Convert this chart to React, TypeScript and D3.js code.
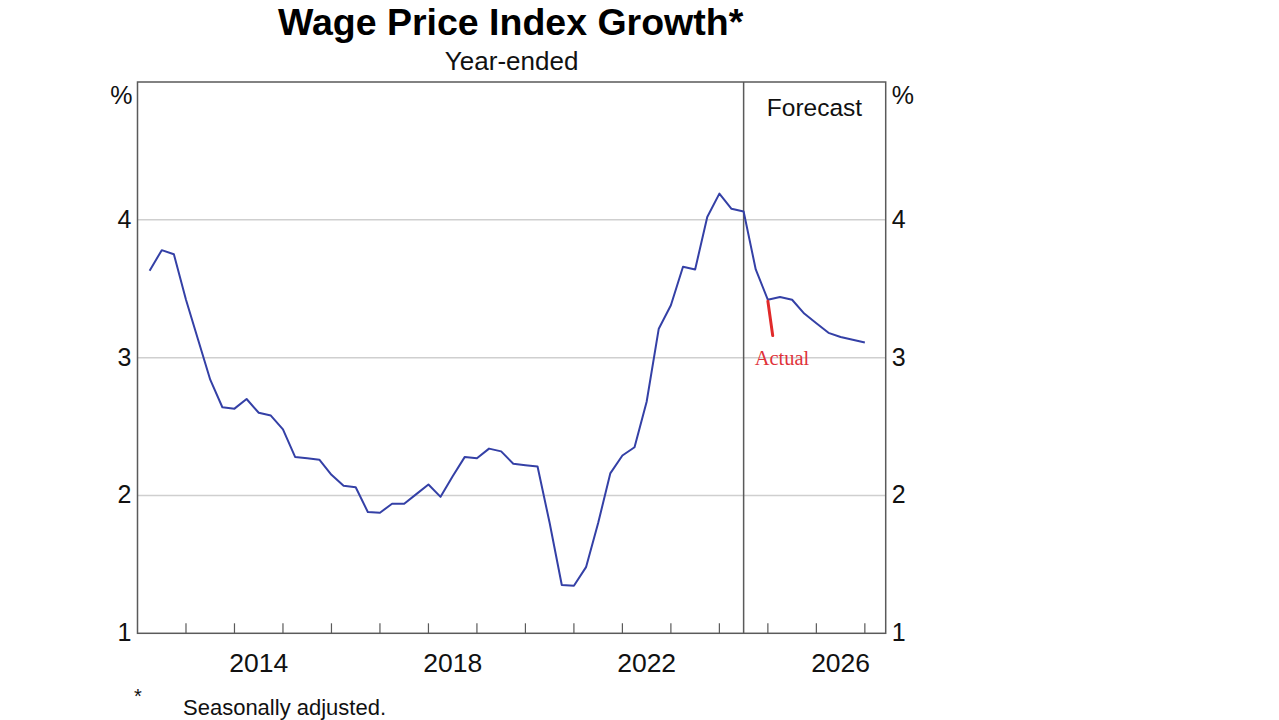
import React from "react";
import * as d3 from "d3";

// Quarterly observations (x = decimal year of quarter end)
const actualYears: number[] = [
  2012.25, 2012.5, 2012.75, 2013.0, 2013.25, 2013.5, 2013.75, 2014.0, 2014.25, 2014.5,
  2014.75, 2015.0, 2015.25, 2015.5, 2015.75, 2016.0, 2016.25, 2016.5, 2016.75, 2017.0,
  2017.25, 2017.5, 2017.75, 2018.0, 2018.25, 2018.5, 2018.75, 2019.0, 2019.25, 2019.5,
  2019.75, 2020.0, 2020.25, 2020.5, 2020.75, 2021.0, 2021.25, 2021.5, 2021.75, 2022.0,
  2022.25, 2022.5, 2022.75, 2023.0, 2023.25, 2023.5, 2023.75, 2024.0, 2024.25, 2024.5,
];
const actualValues: number[] = [
  3.63, 3.78, 3.75, 3.42, 3.13, 2.84, 2.64, 2.63, 2.70, 2.60,
  2.58, 2.48, 2.28, 2.27, 2.26, 2.15, 2.07, 2.06, 1.88, 1.875,
  1.94, 1.94, 2.01, 2.08, 1.99, 2.14, 2.28, 2.27, 2.34, 2.32,
  2.23, 2.22, 2.21, 1.80, 1.35, 1.345, 1.48, 1.80, 2.16, 2.29,
  2.35, 2.68, 3.21, 3.38, 3.66, 3.64, 4.02, 4.19, 4.08, 4.06,
];
const forecastYears: number[] = [2024.75, 2025.0, 2025.25, 2025.5, 2025.75, 2026.0, 2026.25, 2026.5, 2026.75, 2027.0];
const forecastValues: number[] = [3.64, 3.42, 3.44, 3.42, 3.32, 3.25, 3.18, 3.15, 3.13, 3.11];

// Red "Actual" annotation stroke
const actualMarkYears: number[] = [2025.0, 2025.1];
const actualMarkValues: number[] = [3.41, 3.16];

const yTicks: number[] = [1, 2, 3, 4];
const gridValues: number[] = [2, 3, 4];
const xTickYears: number[] = d3.range(2013, 2028);
const xLabelYears: number[] = [2014, 2018, 2022, 2026];
const forecastStart = 2024.5;
const xDomain: [number, number] = [2012, 2027.43];
const yDomain: [number, number] = [1, 5];

const FONT = "'Liberation Sans', Arial, sans-serif";

export default function App() {
  const left = 137.5, right = 885.7, top = 82, bottom = 633.3;
  const x = d3.scaleLinear().domain(xDomain).range([left, right]);
  const y = d3.scaleLinear().domain(yDomain).range([bottom, top]);
  const cx = (left + right) / 2;

  const series = actualYears.map((yr, i) => ({ yr, v: actualValues[i] }))
    .concat(forecastYears.map((yr, i) => ({ yr, v: forecastValues[i] })));
  const line = d3.line<{ yr: number; v: number }>().x(d => x(d.yr)).y(d => y(d.v));
  const mark = actualMarkYears.map((yr, i) => ({ yr, v: actualMarkValues[i] }));

  const axisColor = "#5a5a5a";
  const gridColor = "#cfcfcf";

  return (
    <div style={{ position: "absolute", left: 0, top: 0 }}>
      <svg width={1279} height={720} style={{ display: "block", background: "#fff" }}>
        <text x={cx - 1} y={35} textAnchor="middle" fontFamily={FONT} fontWeight="bold" fontSize={37.5} fill="#000">
          Wage Price Index Growth*
        </text>
        <text x={cx} y={70} textAnchor="middle" fontFamily={FONT} fontSize={26} fill="#111">
          Year-ended
        </text>

        {gridValues.map(v => (
          <line key={"g" + v} x1={left} x2={right} y1={y(v)} y2={y(v)} stroke={gridColor} strokeWidth={1.5} />
        ))}

        {xTickYears.map(yr => (
          <line key={"t" + yr} x1={x(yr)} x2={x(yr)} y1={bottom} y2={bottom - 10} stroke={axisColor} strokeWidth={1.2} />
        ))}

        <line x1={x(forecastStart)} x2={x(forecastStart)} y1={top} y2={bottom} stroke={axisColor} strokeWidth={1.5} />

        <rect x={left} y={top} width={right - left} height={bottom - top} fill="none" stroke={axisColor} strokeWidth={1.5} />

        <path d={line(series) || ""} fill="none" stroke="#3440a6" strokeWidth={2} strokeLinejoin="round" />

        <path d={d3.line<{ yr: number; v: number }>().x(d => x(d.yr)).y(d => y(d.v))(mark) || ""}
          fill="none" stroke="#e02a2a" strokeWidth={3} strokeLinecap="round" />
        <text x={782} y={365} textAnchor="middle" fontFamily="'Liberation Serif', 'DejaVu Serif', serif" fontSize={20.5} fill="#e0323a">
          Actual
        </text>

        <text x={814.5} y={116} textAnchor="middle" fontFamily={FONT} fontSize={24.5} fill="#111">
          Forecast
        </text>

        {yTicks.map(v => (
          <g key={"yl" + v}>
            <text x={left - 6} y={y(v) + 8} textAnchor="end" fontFamily={FONT} fontSize={25} fill="#111">{v}</text>
            <text x={right + 6} y={y(v) + 8} textAnchor="start" fontFamily={FONT} fontSize={25} fill="#111">{v}</text>
          </g>
        ))}
        <text x={left - 5} y={104} textAnchor="end" fontFamily={FONT} fontSize={25} fill="#111">%</text>
        <text x={right + 6} y={104} textAnchor="start" fontFamily={FONT} fontSize={25} fill="#111">%</text>

        {xLabelYears.map(yr => (
          <text key={"xl" + yr} x={x(yr + 0.5)} y={672} textAnchor="middle" fontFamily={FONT} fontSize={26.5} fill="#111">{yr}</text>
        ))}

        <text x={138} y={703} textAnchor="middle" fontFamily={FONT} fontSize={20} fill="#111">*</text>
        <text x={183} y={715} fontFamily={FONT} fontSize={22} fill="#111">Seasonally adjusted.</text>
      </svg>
    </div>
  );
}
